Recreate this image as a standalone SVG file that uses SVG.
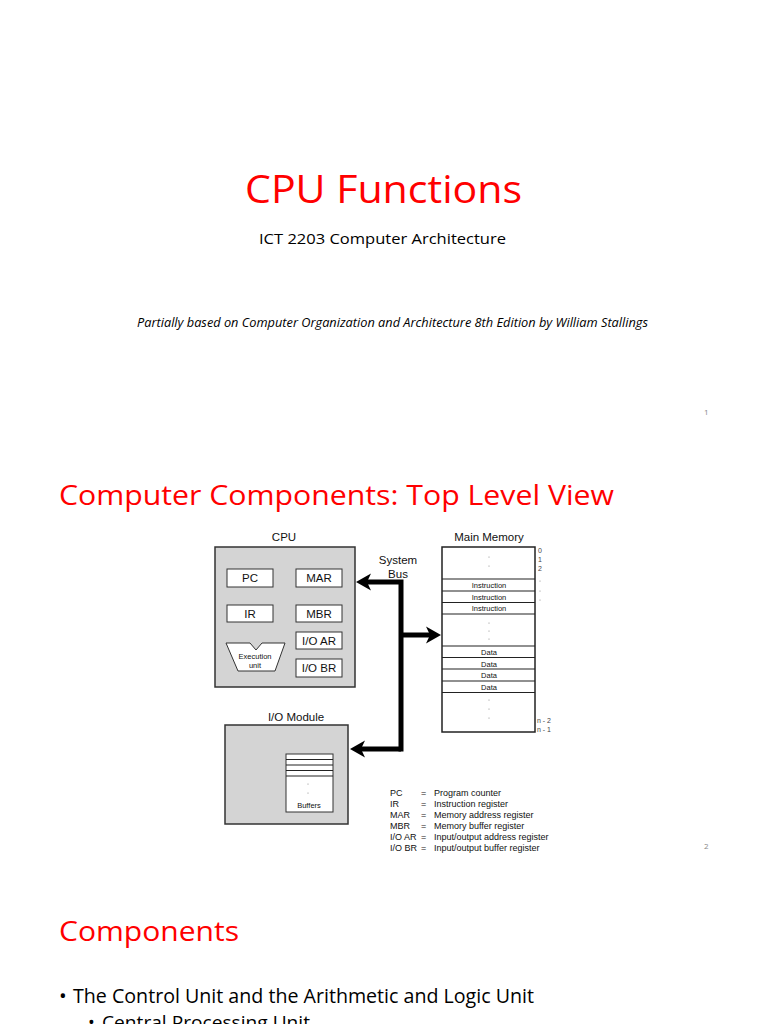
<svg xmlns="http://www.w3.org/2000/svg" width="768" height="1024" viewBox="0 0 768 1024">
<style>
.slideT{font-family:"Open Sans","Noto Sans",sans-serif;fill:#ff0000}
.slide{font-family:"Open Sans","Noto Sans",sans-serif;fill:#000}
.pg{font-family:"Open Sans",sans-serif;font-size:8px;fill:#888}
.d{font-family:"Liberation Sans",Arial,sans-serif;fill:#111}
.lbl{font-size:11.5px;text-anchor:middle}
.sm{font-size:7.5px;text-anchor:middle}
.idx{font-size:7px;fill:#444}
.leg{font-size:9px}
.box{fill:#d4d4d4;stroke:#333;stroke-width:1.5}
.reg{fill:#fff;stroke:#333;stroke-width:1}
.mem{fill:#fff;stroke:#222;stroke-width:1.5}
.row{stroke:#222;stroke-width:1.2}
.dot{fill:#888}
.bus{fill:none;stroke:#000;stroke-width:5}
</style>
<defs>
<marker id="ah" markerUnits="userSpaceOnUse" markerWidth="40" markerHeight="40" refX="0" refY="0" orient="auto" overflow="visible">
<path d="M10,0 L-5,-8.5 L-1,0 L-5,8.5 Z" fill="#000"/>
</marker>
</defs>
<rect width="768" height="1024" fill="#fff"/>

<!-- Slide 1 -->
<text class="slideT" x="383.5" y="203" font-size="39" text-anchor="middle" textLength="277" lengthAdjust="spacingAndGlyphs">CPU Functions</text>
<text class="slide" x="382.5" y="244" font-size="14" text-anchor="middle" textLength="247" lengthAdjust="spacingAndGlyphs">ICT 2203 Computer Architecture</text>
<text class="slide" x="392.5" y="327" font-size="12.5" font-style="italic" text-anchor="middle" textLength="511" lengthAdjust="spacingAndGlyphs">Partially based on Computer Organization and Architecture 8th Edition by William Stallings</text>
<text class="pg" x="704" y="415">1</text>

<!-- Slide 2 -->
<text class="slideT" x="59" y="505" font-size="28" textLength="555" lengthAdjust="spacingAndGlyphs">Computer Components: Top Level View</text>

<g id="cpu">
<text class="d lbl" x="284" y="541">CPU</text>
<rect class="box" x="215" y="547" width="140" height="140"/>
<g id="pc"><rect class="reg" x="227" y="569" width="46" height="18"/><text class="d lbl" x="250" y="582">PC</text></g>
<g id="mar"><rect class="reg" x="296" y="569" width="46" height="18"/><text class="d lbl" x="319" y="582">MAR</text></g>
<g id="ir"><rect class="reg" x="227" y="605" width="46" height="17"/><text class="d lbl" x="250" y="618">IR</text></g>
<g id="mbr"><rect class="reg" x="296" y="605" width="46" height="17"/><text class="d lbl" x="319" y="618">MBR</text></g>
<g id="ioar"><rect class="reg" x="296" y="632" width="46" height="17"/><text class="d lbl" x="319" y="645">I/O AR</text></g>
<g id="iobr"><rect class="reg" x="296" y="659" width="46" height="18"/><text class="d lbl" x="319" y="672">I/O BR</text></g>
<g id="exec">
<path class="reg" d="M226,643 L250,643 L256,650 L262,643 L285,643 L275,671 L238,671 Z"/>
<text class="d sm" x="255" y="659" font-size="7">Execution</text>
<text class="d sm" x="255" y="668" font-size="7">unit</text>
</g>
</g>

<g id="memory">
<text class="d lbl" x="489" y="541">Main Memory</text>
<rect class="mem" x="442" y="547" width="93" height="185"/>
<line class="row" x1="442" y1="579" x2="535" y2="579"/>
<line class="row" x1="442" y1="591" x2="535" y2="591"/>
<line class="row" x1="442" y1="602.5" x2="535" y2="602.5"/>
<line class="row" x1="442" y1="614" x2="535" y2="614"/>
<line class="row" x1="442" y1="646" x2="535" y2="646"/>
<line class="row" x1="442" y1="657.5" x2="535" y2="657.5"/>
<line class="row" x1="442" y1="669" x2="535" y2="669"/>
<line class="row" x1="442" y1="681" x2="535" y2="681"/>
<line class="row" x1="442" y1="692.5" x2="535" y2="692.5"/>
<text class="d sm" x="489" y="588">Instruction</text>
<text class="d sm" x="489" y="599.5">Instruction</text>
<text class="d sm" x="489" y="611">Instruction</text>
<text class="d sm" x="489" y="655">Data</text>
<text class="d sm" x="489" y="666.5">Data</text>
<text class="d sm" x="489" y="678">Data</text>
<text class="d sm" x="489" y="689.5">Data</text>
<circle class="dot" cx="489" cy="557" r="0.6"/>
<circle class="dot" cx="489" cy="566" r="0.6"/>
<circle class="dot" cx="489" cy="623" r="0.6"/>
<circle class="dot" cx="489" cy="631" r="0.6"/>
<circle class="dot" cx="489" cy="639" r="0.6"/>
<circle class="dot" cx="489" cy="700" r="0.6"/>
<circle class="dot" cx="489" cy="709" r="0.6"/>
<circle class="dot" cx="489" cy="718" r="0.6"/>
<text class="d idx" x="538" y="553">0</text>
<text class="d idx" x="538" y="562">1</text>
<text class="d idx" x="538" y="571">2</text>
<circle class="dot" cx="540" cy="581" r="0.6"/>
<circle class="dot" cx="540" cy="591" r="0.6"/>
<circle class="dot" cx="540" cy="600" r="0.6"/>
<text class="d idx" x="537" y="722.5">n - 2</text>
<text class="d idx" x="537" y="732">n - 1</text>
</g>

<g id="iomodule">
<text class="d lbl" x="296" y="721">I/O Module</text>
<rect class="box" x="225" y="725" width="123" height="99"/>
<rect class="reg" x="286" y="754" width="47" height="58"/>
<line class="row" x1="286" y1="759.5" x2="333" y2="759.5" stroke-width="1"/>
<line class="row" x1="286" y1="765" x2="333" y2="765" stroke-width="1"/>
<line class="row" x1="286" y1="770.5" x2="333" y2="770.5" stroke-width="1"/>
<line class="row" x1="286" y1="776" x2="333" y2="776" stroke-width="1"/>
<circle class="dot" cx="308" cy="784" r="0.6"/>
<circle class="dot" cx="308" cy="793" r="0.6"/>
<text class="d sm" x="309" y="808" font-size="8.5">Buffers</text>
</g>

<g id="connectors">
<text class="d lbl" x="398" y="564">System</text>
<text class="d lbl" x="398" y="578">Bus</text>
<path class="bus" d="M401,751.5 V582 H366" marker-end="url(#ah)"/>
<path class="bus" d="M401,635 H431" marker-end="url(#ah)"/>
<path class="bus" d="M401,749 H360" marker-end="url(#ah)"/>
</g>

<g id="legend" class="d leg">
<text x="390" y="796">PC</text><text x="421" y="796">=</text><text x="434" y="796">Program counter</text>
<text x="390" y="807">IR</text><text x="421" y="807">=</text><text x="434" y="807">Instruction register</text>
<text x="390" y="818">MAR</text><text x="421" y="818">=</text><text x="434" y="818">Memory address register</text>
<text x="390" y="829">MBR</text><text x="421" y="829">=</text><text x="434" y="829">Memory buffer register</text>
<text x="390" y="840">I/O AR</text><text x="421" y="840">=</text><text x="434" y="840">Input/output address register</text>
<text x="390" y="851">I/O BR</text><text x="421" y="851">=</text><text x="434" y="851">Input/output buffer register</text>
</g>
<text class="pg" x="704" y="849">2</text>

<!-- Slide 3 -->
<text class="slideT" x="59" y="941" font-size="28" textLength="180" lengthAdjust="spacingAndGlyphs">Components</text>
<text class="slide" x="59" y="1003" font-size="20.5">•</text>
<text class="slide" x="73" y="1003" font-size="20.5" textLength="461" lengthAdjust="spacingAndGlyphs">The Control Unit and the Arithmetic and Logic Unit</text>
<text class="slide" x="88" y="1029" font-size="18">•</text>
<text class="slide" x="102" y="1029" font-size="18" textLength="208" lengthAdjust="spacingAndGlyphs">Central Processing Unit</text>
</svg>
